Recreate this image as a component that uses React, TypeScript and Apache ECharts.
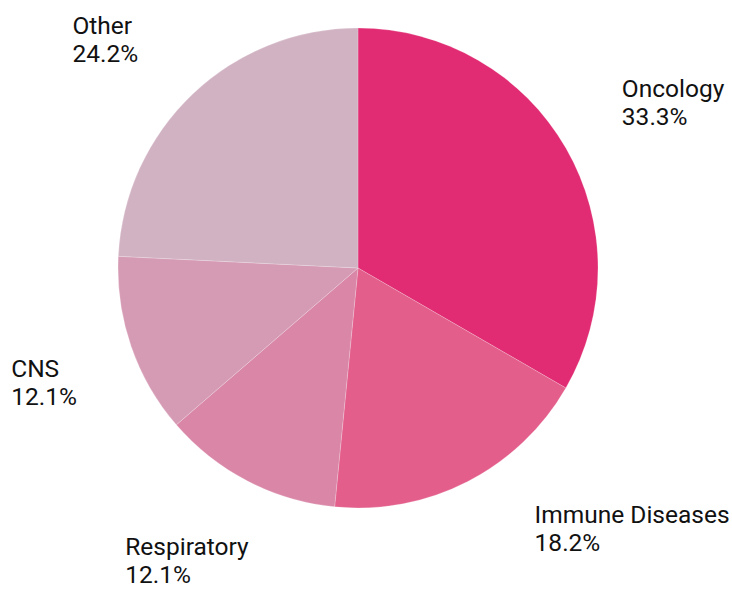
import React, { useEffect, useRef } from "react";
import * as echarts from "echarts";

const categories = ["Oncology", "Immune Diseases", "Respiratory", "CNS", "Other"];
const values = [33.3, 18.2, 12.1, 12.1, 24.2];
const colors = ["#E12C73", "#E35E8B", "#D986A7", "#D69BB4", "#D1B2C2"];
// label nudges relative to ECharts' default outside placement
const labelShift = [
  [23, -38],
  [40, 34],
  [28, 66],
  [-20, 31],
  [-24, -44],
];

export default function App() {
  const ref = useRef<HTMLDivElement>(null);
  useEffect(() => {
    const chart = echarts.init(ref.current!, null, { renderer: "svg" });
    chart.setOption({
      animation: false,
      series: [
        {
          type: "pie",
          center: [358, 268],
          radius: 240,
          startAngle: 90,
          clockwise: true,
          data: categories.map((name, i) => ({
            name,
            value: values[i],
            itemStyle: { color: colors[i] },
          })),
          itemStyle: { borderColor: "rgba(255,255,255,0.4)", borderWidth: 0.5 },
          label: {
            show: true,
            position: "outside",
            formatter: (p: any) => `${p.name}\n${p.value.toFixed(1)}%`,
            fontFamily: "Roboto",
            fontSize: 24.5,
            lineHeight: 28,
            color: "#111",
          },
          labelLine: { show: false, length: 15, length2: 15 },
          labelLayout: (p: any) => {
            const s = labelShift[p.dataIndex];
            return {
              x: p.labelRect.x + s[0],
              y: p.labelRect.y + s[1],
              align: "left",
              verticalAlign: "top",
            };
          },
        },
      ],
    });
    return () => chart.dispose();
  }, []);
  return (
    <div
      ref={ref}
      style={{ position: "absolute", left: 0, top: 0, width: 732, height: 590 }}
    />
  );
}
